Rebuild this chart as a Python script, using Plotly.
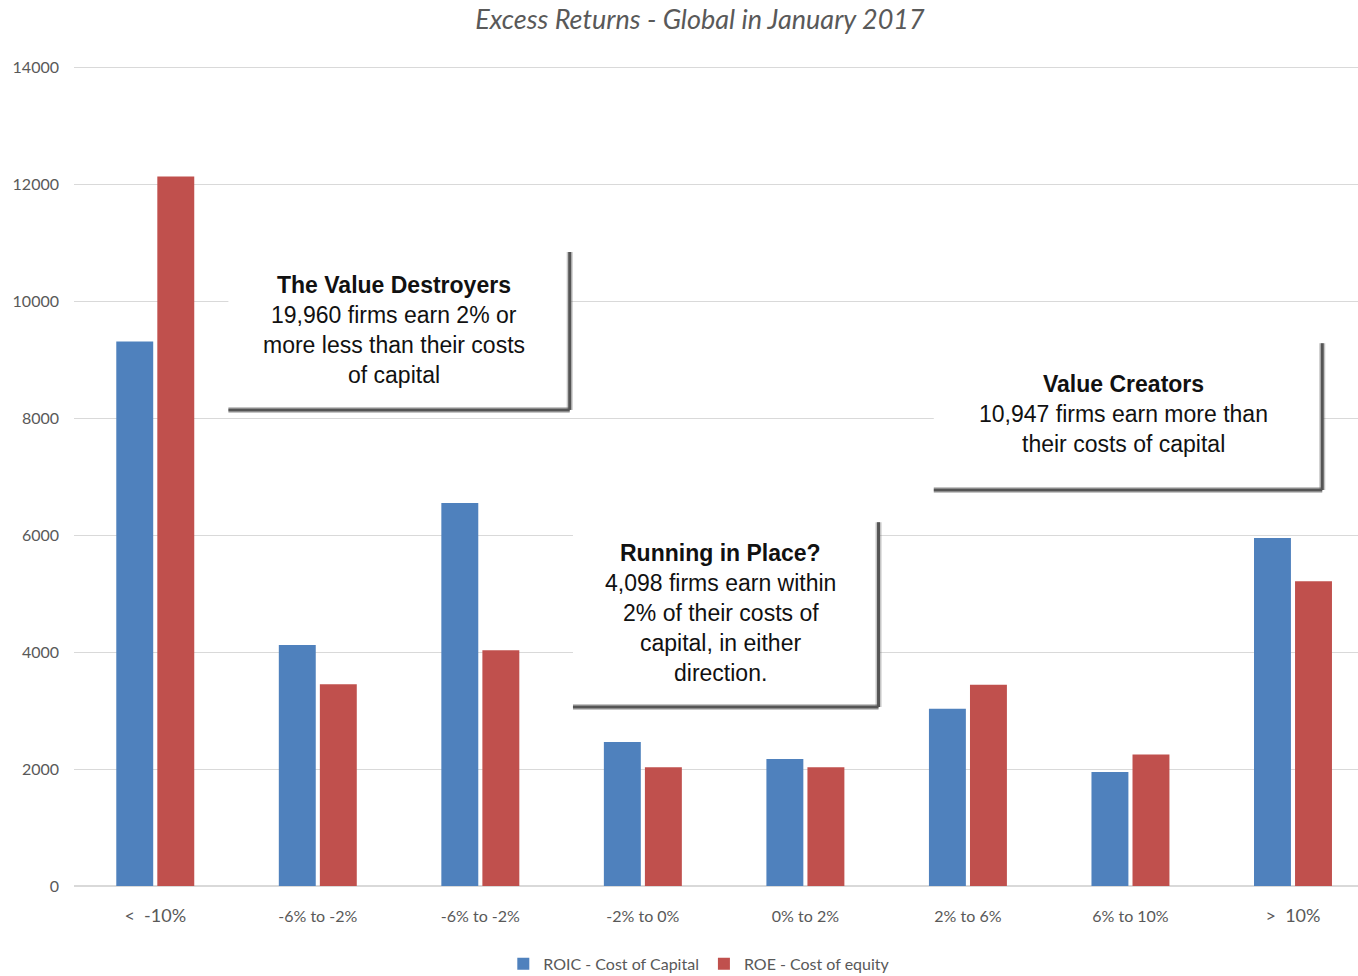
import plotly.graph_objects as go

categories = ["<  -10%", "-6% to -2%", "-6% to -2%", "-2% to 0%", "0% to 2%", "2% to 6%", "6% to 10%", ">  10%"]
roic = [9310, 4120, 6550, 2460, 2170, 3030, 1950, 5950]
roe = [12130, 3450, 4030, 2030, 2030, 3440, 2250, 5210]
series_names = ["ROIC - Cost of Capital", "ROE - Cost of equity"]

BLUE = "#4F81BD"
RED = "#C0504D"
x_idx = list(range(len(categories)))

# outer categories are printed slightly larger in the original chart
tick_text = [
    f'<span style="font-size:18px">{c}</span>' if i in (0, len(categories) - 1) else c
    for i, c in enumerate(categories)
]

fig = go.Figure()
fig.add_trace(go.Bar(x=x_idx, y=roic, name=series_names[0], marker=dict(color=BLUE, line=dict(width=0))))
fig.add_trace(go.Bar(x=x_idx, y=roe, name=series_names[1], marker=dict(color=RED, line=dict(width=0))))

# annotation boxes (x in category index units, y in data units)
boxes = [
    dict(x0=0.45, x1=2.55, y0=8140, y1=10840,
         lines=["<b>The Value Destroyers</b>", "19,960 firms earn 2% or", "more less than their costs", "of capital"],
         cx=1.47, ytop=10270),
    dict(x0=2.57, x1=4.45, y0=3060, y1=6220,
         lines=["<b>Running in Place?</b>", "4,098 firms earn within", "2% of their costs of", "capital, in either", "direction."],
         cx=3.48, ytop=5690),
    dict(x0=4.79, x1=7.18, y0=6770, y1=9280,
         lines=["<b>Value Creators</b>", "10,947 firms earn more than", "their costs of capital"],
         cx=5.96, ytop=8580),
]
line_step = 2000 * 30 / 117.0
shapes = []
annotations = []
for b in boxes:
    shapes.append(dict(type="rect", xref="x", yref="y", x0=b["x0"], x1=b["x1"], y0=b["y0"], y1=b["y1"],
                       fillcolor="white", line=dict(width=0), layer="above"))
    # shadow edges (right and bottom)
    for w, c in [(6, "rgba(90,90,90,0.35)"), (3, "#555555")]:
        shapes.append(dict(type="line", xref="x", yref="y", x0=b["x1"], x1=b["x1"], y0=b["y0"], y1=b["y1"],
                           line=dict(color=c, width=w), layer="above"))
        shapes.append(dict(type="line", xref="x", yref="y", x0=b["x0"], x1=b["x1"], y0=b["y0"], y1=b["y0"],
                           line=dict(color=c, width=w), layer="above"))
    for i, t in enumerate(b["lines"]):
        annotations.append(dict(x=b["cx"], y=b["ytop"] - i * line_step, xref="x", yref="y", text=t,
                                showarrow=False, xanchor="center", yanchor="middle",
                                font=dict(family="Liberation Sans, Arial", size=23, color="#111111")))

fig.update_layout(
    width=1358, height=976,
    margin=dict(l=74, r=0, t=66, b=90, autoexpand=False),
    paper_bgcolor="white", plot_bgcolor="white",
    title=dict(text="<i>Excess Returns - Global in January 2017</i>", x=700/1358, xanchor="center",
               y=1 - 20/976, yanchor="middle",
               font=dict(family="Lato, Open Sans", size=27, color="#595959")),
    barmode="group", bargap=0.495, bargroupgap=0.1,
    showlegend=True,
    legend=dict(orientation="h", x=0.487, xanchor="center", y=-0.095, yanchor="middle",
                font=dict(family="Lato, Open Sans", size=16, color="#595959"), itemwidth=30,
                traceorder="normal"),
    shapes=shapes, annotations=annotations,
)
fig.update_xaxes(tickmode="array", tickvals=x_idx, ticktext=tick_text, range=[-0.5, 7.4],
                 showgrid=False, showline=False, zeroline=False, ticks="", automargin=False,
                 ticklabelstandoff=19,
                 tickfont=dict(family="Lato, Open Sans", size=16, color="#595959"))
fig.update_yaxes(range=[0, 14020], tickvals=[0, 2000, 4000, 6000, 8000, 10000, 12000, 14000],
                 tickformat="d", automargin=False,
                 showgrid=True, gridcolor="#D9D9D9", gridwidth=1, zeroline=True, zerolinecolor="#D9D9D9",
                 showline=False, ticks="", ticklabelstandoff=14,
                 tickfont=dict(family="Lato, Open Sans", size=16, color="#595959"))

fig.write_html("out.html")
